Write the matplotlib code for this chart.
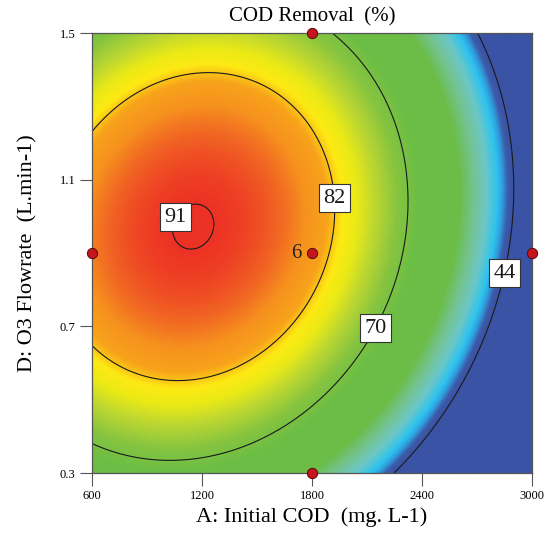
import numpy as np
import matplotlib
matplotlib.use("Agg")
import matplotlib.pyplot as plt
from matplotlib.colors import LinearSegmentedColormap, Normalize

# ---- data (coded quadratic model) ----
x_range = [600, 3000]          # A: Initial COD
y_range = [0.3, 1.5]           # D: O3 flowrate
x_ticks = [600, 1200, 1800, 2400, 3000]
y_ticks = [0.3, 0.7, 1.1, 1.5]
# Y = b0 + bA*a + bD*d + bAD*a*d + bAA*a^2 + bDD*d^2 (coded units -1..1)
coef_names = ["b0", "bA", "bD", "bAD", "bAA", "bDD"]
coef_values = [84.07, -24.84, 6.99, 4.5, -22.5, -19.0]
contour_levels = [44, 70, 82, 91]
label_pos_x = [1030, 1925, 2110, 2853]
label_pos_y = [1.004, 1.05, 0.704, 0.845]
design_x = [600, 1800, 1800, 3000, 1800]
design_y = [0.9, 0.3, 1.5, 0.9, 0.9]
center_replicates = "6"

# colour stops (response value -> colour)
stop_values = [44, 45.5, 47, 48.5, 51.5, 55, 58.5, 68, 72, 76, 79, 81, 83, 85.5, 88, 91, 92]
stop_colors = ["#3a53a4", "#3d5aa9", "#2f9ddc", "#2ec3ef", "#6cc7c6", "#74c38f",
               "#6bbd48", "#6dbe45", "#86c440", "#bcd731", "#ecea16", "#fde913",
               "#f8a31b", "#f6921e", "#f16423", "#ed3325", "#ec2f25"]

serif = ["Liberation Serif", "DejaVu Serif"]
plt.rcParams["font.family"] = serif

fig = plt.figure(figsize=(5.47, 5.46), dpi=100)
ax = fig.add_axes([92/547, 1 - 473/546, 440/547, 440/546])

xs = np.linspace(x_range[0], x_range[1], 400)
ys = np.linspace(y_range[0], y_range[1], 400)
X, Y = np.meshgrid(xs, ys)
a = (X - 1800) / 1200
d = (Y - 0.9) / 0.6
b0, bA, bD, bAD, bAA, bDD = coef_values
Z = b0 + bA*a + bD*d + bAD*a*d + bAA*a**2 + bDD*d**2

vmin, vmax = stop_values[0], stop_values[-1]
pos = [(v - vmin) / (vmax - vmin) for v in stop_values]
cmap = LinearSegmentedColormap.from_list("de", list(zip(pos, stop_colors)))
ax.imshow(Z, origin="lower", extent=[x_range[0], x_range[1], y_range[0], y_range[1]],
          aspect="auto", cmap=cmap, norm=Normalize(vmin, vmax, clip=True),
          interpolation="bilinear")

cs = ax.contour(X, Y, Z, levels=contour_levels, colors="#1a1a1a", linewidths=0.8)
labels = ax.clabel(cs, fmt="%d", fontsize=16, inline=False,
                   manual=list(zip(label_pos_x, label_pos_y)))
for t in labels:
    t.set_rotation(0)
    t.set_fontfamily(serif)
    t.set_zorder(6)
    t.set_bbox(dict(boxstyle="square,pad=0.2", fc="white", ec="#333333", lw=0.8))

ax.scatter(design_x, design_y, s=55, color="#c4161c", edgecolors="#5a0a0a",
           linewidths=0.7, zorder=5, clip_on=False)
ax.text(1800 - 55, 0.9, center_replicates, ha="right", va="center", fontsize=15,
        color="#222222")

ax.set_xlim(x_range)
ax.set_ylim(y_range)
ax.set_xticks(x_ticks)
ax.set_xticklabels([str(v) for v in x_ticks])
ax.set_yticks(y_ticks)
ax.set_yticklabels([str(v) for v in y_ticks])
ax.tick_params(direction="out", length=9, width=0.8, color="#555555", labelsize=9,
               pad=3)
for s in ax.spines.values():
    s.set_color("#555555")
    s.set_linewidth(0.9)

ax.set_title("COD Removal  (%)", fontsize=15, pad=8)
ax.set_xlabel("A: Initial COD  (mg. L-1)", fontsize=16, labelpad=4)
ax.set_ylabel("D: O3 Flowrate  (L.min-1)", fontsize=16, labelpad=16)

fig.savefig("out.png", dpi=100)
